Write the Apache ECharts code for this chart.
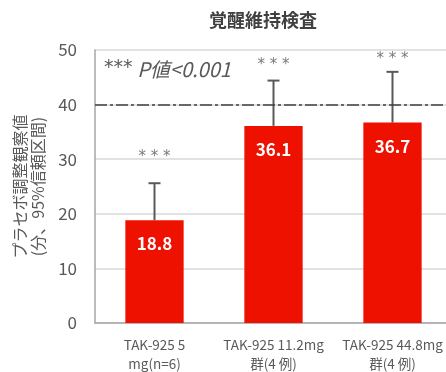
<!DOCTYPE html>
<html>
<head>
<meta charset="utf-8">
<script src="https://cdn.jsdelivr.net/npm/echarts@6/dist/echarts.min.js"></script>
<style>
  html, body { margin: 0; padding: 0; background: #fff; }
  #chart { width: 446px; height: 372px; }
</style>
</head>
<body>
<div id="chart"></div>
<script>
// Groups, means and upper 95% CI limits (minutes, placebo-adjusted)
const categories = ['TAK-925 5\nmg(n=6)', 'TAK-925 11.2mg\n群(4 例)', 'TAK-925 44.8mg\n群(4 例)'];
const means = [18.8, 36.1, 36.7];
const upperCI = [25.6, 44.4, 46.0];
const starLevels = [30.3, 47.3, 48.4];
const yTicks = [0, 10, 20, 30, 40, 50];
const referenceLine = 40;

const FONT = '"Noto Sans CJK JP", "Noto Sans", sans-serif';
const STAR_FONT = '"DejaVu Sans", sans-serif';
const GRAY = '#595959';
const RED = '#ee1100';

const chart = echarts.init(document.getElementById('chart'), null, { renderer: 'canvas' });

chart.setOption({
  animation: false,
  textStyle: { fontFamily: FONT },
  title: {
    text: '覚醒維持検査',
    left: 258,
    textAlign: 'center',
    top: 6,
    textStyle: { fontSize: 18, fontWeight: 'bold', color: '#404040', fontFamily: FONT }
  },
  graphic: [{
    type: 'text',
    left: 104,
    top: 59,
    style: {
      text: '{s|***} {p|P値<0.001}',
      fontFamily: FONT,
      fill: GRAY,
      rich: {
        s: { fontSize: 19, fontFamily: STAR_FONT, fill: GRAY, color: GRAY, padding: [0, 2, 2, 0] },
        p: { fontSize: 20, fontStyle: 'italic', fontFamily: FONT, fill: GRAY, color: GRAY }
      }
    }
  }],
  grid: { left: 95, top: 50, width: 357, height: 273, outerBoundsMode: 'none', containLabel: false },
  xAxis: {
    type: 'category',
    data: categories,
    axisLine: { lineStyle: { color: '#a6a6a6', width: 1.5 } },
    axisTick: { show: false },
    axisLabel: { color: GRAY, fontSize: 13.5, lineHeight: 19, margin: 12, interval: 0, fontFamily: FONT }
  },
  yAxis: {
    type: 'value',
    min: yTicks[0],
    max: yTicks[yTicks.length - 1],
    interval: 10,
    name: 'プラセボ調整観察値\n(分、95%信頼区間)',
    nameLocation: 'middle',
    nameRotate: 90,
    nameGap: 48,
    nameTextStyle: { color: GRAY, fontSize: 16, lineHeight: 18, fontFamily: FONT },
    axisLine: { show: true, lineStyle: { color: '#a6a6a6', width: 1.5 } },
    axisTick: { show: false },
    axisLabel: { color: GRAY, fontSize: 17, margin: 18, fontFamily: FONT },
    splitLine: { lineStyle: { color: '#d9d9d9', width: 1.5 } }
  },
  series: [
    {
      type: 'bar',
      data: means,
      barWidth: '49%',
      itemStyle: { color: RED },
      label: {
        show: true,
        position: 'insideTop',
        distance: 15,
        color: '#fff',
        fontSize: 17,
        fontWeight: 'bold',
        fontFamily: FONT
      },
      markLine: {
        silent: true,
        symbol: 'none',
        label: { show: false },
        lineStyle: { color: '#404040', width: 1.5, type: [12, 3, 3, 3] },
        data: [{ yAxis: referenceLine }]
      },
      z: 2
    },
    {
      // upper whisker of the 95% CI
      type: 'custom',
      data: means.map((m, i) => [i, m, upperCI[i]]),
      renderItem: function (params, api) {
        const base = api.coord([api.value(0), api.value(1)]);
        const top = api.coord([api.value(0), api.value(2)]);
        const half = 6;
        return {
          type: 'group',
          children: [
            { type: 'line', shape: { x1: base[0], y1: base[1], x2: top[0], y2: top[1] },
              style: { stroke: GRAY, lineWidth: 2 } },
            { type: 'line', shape: { x1: top[0] - half, y1: top[1], x2: top[0] + half, y2: top[1] },
              style: { stroke: GRAY, lineWidth: 2 } }
          ]
        };
      },
      z: 1
    },
    {
      // significance markers
      type: 'scatter',
      data: starLevels.map((v, i) => [i, v]),
      symbolSize: 0,
      label: {
        show: true,
        position: 'inside',
        formatter: '* * *',
        color: GRAY,
        fontSize: 15,
        fontFamily: STAR_FONT
      },
      z: 3
    }
  ]
});
</script>
</body>
</html>
